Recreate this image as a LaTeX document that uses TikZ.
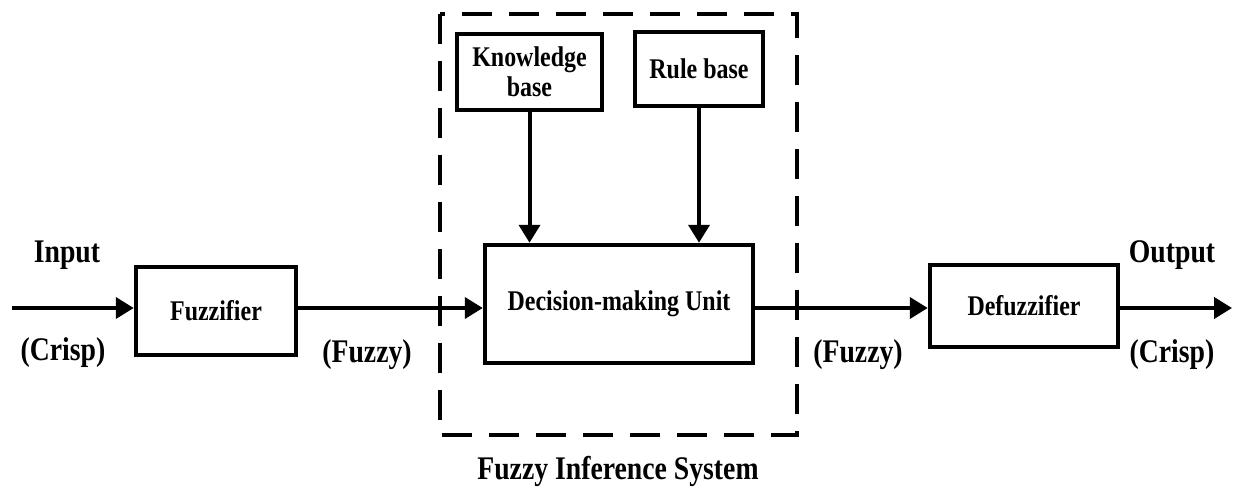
\documentclass[tikz,border=0pt]{standalone}
\usepackage{fontspec}
\setmainfont{Liberation Serif}[FakeStretch=0.84]
\usetikzlibrary{arrows.meta}
\begin{document}
\begin{tikzpicture}[x=1pt,y=-1pt,
  blk/.style={draw, line width=4.5pt, rectangle, align=center, inner sep=0pt,
    font=\fontsize{28.5}{30}\selectfont\bfseries},
  lbl/.style={font=\fontsize{33}{35}\selectfont\bfseries, inner sep=0pt},
  conn/.style={line width=4pt, -{Triangle[length=18pt,width=21pt]}}]
\useasboundingbox (0,0) rectangle (1233,493);
\draw[line width=4.5pt, dash pattern=on 30pt off 17pt] (440,14) rectangle (797,435);
\node[blk, minimum width=160pt, minimum height=88pt] (fz) at (216,311) {Fuzzifier};
\node[blk, minimum width=145pt, minimum height=76pt] (kb) at (529.5,72) {Knowledge\\base};
\node[blk, minimum width=128pt, minimum height=74pt] (rb) at (699,69) {Rule base};
\node[blk, minimum width=268pt, minimum height=118pt] (dmu) at (619,304) {Decision-making Unit};
\node[blk, minimum width=188pt, minimum height=82pt] (dfz) at (1024,306) {Defuzzifier};
\coordinate (in) at (12,308);
\coordinate (out) at (1232,308);
\draw[conn] (in) -- (in -| fz.west);
\draw[conn] (fz.east |- in) -- (in -| dmu.west);
\draw[conn] (dmu.east |- in) -- (in -| dfz.west);
\draw[conn] (dfz.east |- out) -- (out);
\draw[conn] (kb.south) -- (kb.south |- dmu.north);
\draw[conn] (rb.south) -- (rb.south |- dmu.north);
\node[lbl] (linput) at (67,255) {Input};
\node[lbl] (lcrisp1) at (63,353) {(Crisp)};
\node[lbl] (lfuzzy1) at (367,355) {(Fuzzy)};
\node[lbl] (lfuzzy2) at (858,355) {(Fuzzy)};
\node[lbl] (loutput) at (1172,255) {Output};
\node[lbl] (lcrisp2) at (1172,355) {(Crisp)};
\node[lbl] (lfis) at (618,471) {Fuzzy Inference System};
\end{tikzpicture}
\end{document}
